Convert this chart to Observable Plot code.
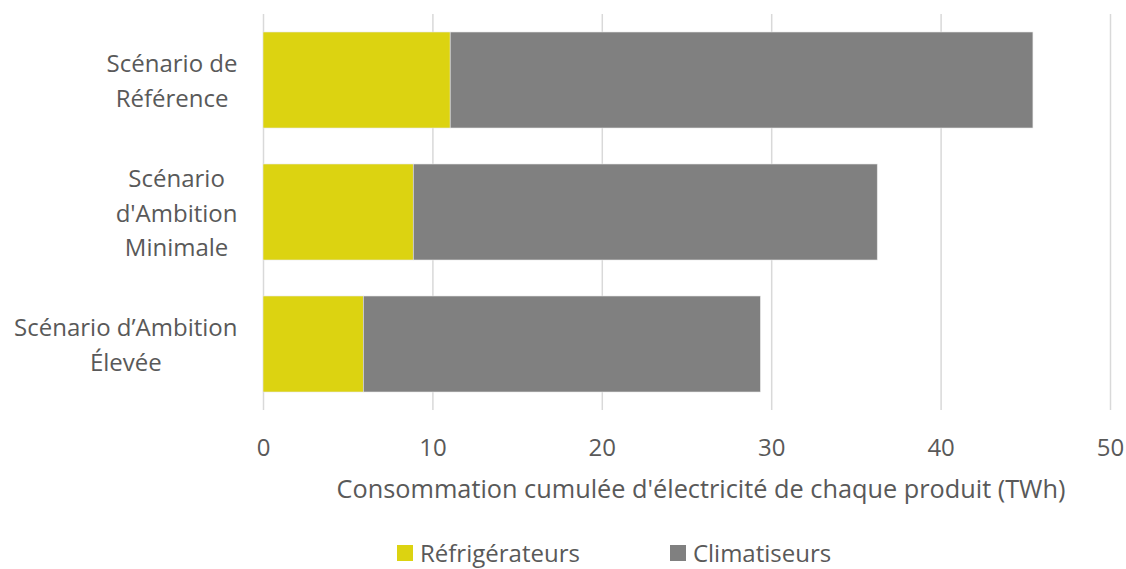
<!DOCTYPE html>
<html><head><meta charset="utf-8">
<script src="https://cdn.jsdelivr.net/npm/d3@7"></script>
<script src="https://cdn.jsdelivr.net/npm/@observablehq/plot@0.6"></script>
<style>
body{margin:0;background:#fff;font-family:"Open Sans",sans-serif;overflow:hidden;}
#chart svg{display:block;}
#legend{display:flex;justify-content:flex-start;align-items:center;height:31px;font-size:24px;line-height:1.2;color:#595959;padding-left:397px;}
.item{display:flex;align-items:center;}
.sw{width:16px;height:16px;display:inline-block;margin-right:7px;}
</style></head>
<body>
<div id="chart"></div>
<div id="legend"></div>
<script>
const scenarios = ["Scénario de Référence", "Scénario d'Ambition Minimale", "Scénario d’Ambition Élevée"];
const scenarioLabels = ["Scénario de\nRéférence", "Scénario\nd'Ambition\nMinimale", "Scénario d’Ambition\nÉlevée"];
const products = ["Réfrigérateurs", "Climatiseurs"];
const refrigerateurs = [11.05, 8.87, 5.92];
const climatiseurs = [34.40, 27.39, 23.44];
const colors = ["#DCD311", "#808080"];
const xTicks = [0, 10, 20, 30, 40, 50];
const xTitle = "Consommation cumulée d'électricité de chaque produit (TWh)";

const data = [];
scenarios.forEach((s, i) => {
  data.push({scenario: s, product: products[0], value: refrigerateurs[i]});
  data.push({scenario: s, product: products[1], value: climatiseurs[i]});
});

const labelFont = 24;
const ctx = document.createElement("canvas").getContext("2d");
ctx.font = `${labelFont}px "Open Sans"`;
const labelMarks = scenarios.map((s, i) => {
  const w = d3.max(scenarioLabels[i].split("\n"), l => ctx.measureText(l).width);
  return Plot.text([{scenario: s, label: scenarioLabels[i]}], {
    y: "scenario", text: "label", frameAnchor: "left", textAnchor: "middle",
    dx: -26 - w / 2, fontSize: labelFont, fill: "#595959", lineHeight: 1.45, dy: -2
  });
});

const chart = Plot.plot({
  width: 1126,
  height: 538,
  marginTop: 14,
  marginBottom: 128,
  marginLeft: 263,
  marginRight: 16,
  style: {fontFamily: "Open Sans, sans-serif", fontSize: "24px", color: "#595959"},
  x: {domain: [0, 50], ticks: xTicks, label: null},
  y: {domain: scenarios, paddingInner: 0.275, paddingOuter: 0.1375, axis: null},
  color: {domain: products, range: colors},
  marks: [
    Plot.gridX(xTicks, {stroke: "#d9d9d9", strokeOpacity: 1, strokeWidth: 1.5}),
    Plot.barX(data, Plot.stackX({y: "scenario", x: "value", fill: "product", order: products, stroke: "#e6e6e6", strokeWidth: 0.6})),
    Plot.axisX(xTicks, {tickSize: 0, tickPadding: 28, fontSize: 24, fill: "#595959", label: null}),
    ...labelMarks,
    Plot.text([xTitle], {frameAnchor: "bottom", text: d => d, lineAnchor: "middle", dy: 79, fontSize: 25.3, fill: "#595959", dx: 14})
  ]
});
document.getElementById("chart").appendChild(chart);

const legend = document.getElementById("legend");
products.forEach((p, i) => {
  const item = document.createElement("div");
  item.className = "item";
  if (i > 0) item.style.marginLeft = "90px";
  const sw = document.createElement("span");
  sw.className = "sw";
  sw.style.background = colors[i];
  item.appendChild(sw);
  item.appendChild(document.createTextNode(p));
  legend.appendChild(item);
});
</script>
</body></html>
